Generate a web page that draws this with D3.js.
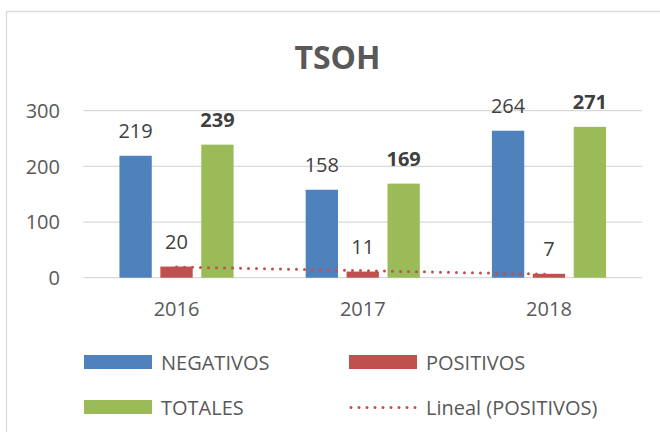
<!DOCTYPE html>
<html>
<head>
<meta charset="utf-8">
<script src="https://cdn.jsdelivr.net/npm/d3@7"></script>
<style>
  html, body { margin: 0; padding: 0; background: #fff; }
  svg { display: block; font-family: "Open Sans", "Noto Sans", sans-serif; }
</style>
</head>
<body>
<svg id="chart" width="660" height="432"></svg>
<script>
// Chart data
const years = ["2016", "2017", "2018"];
const negativos = [219, 158, 264];
const positivos = [20, 11, 7];
const totales = [239, 169, 271];
const yTicks = [0, 100, 200, 300];
const seriesNames = ["NEGATIVOS", "POSITIVOS", "TOTALES"];
const seriesColors = ["#4F81BD", "#C0504D", "#9BBB59"];
const trendName = "Lineal (POSITIVOS)";

const svg = d3.select("#chart");

// Outer chart frame (continues past the right and bottom edges)
svg.append("path")
  .attr("d", "M6.5,440 L6.5,11.5 L680,11.5")
  .attr("fill", "none")
  .attr("stroke", "#D9D9D9")
  .attr("stroke-width", 1.3);

// Title
svg.append("text")
  .attr("x", 337.5).attr("y", 69)
  .attr("text-anchor", "middle")
  .attr("font-size", 32).attr("font-weight", 700)
  .attr("fill", "#595959")
  .text("TSOH");

const plot = { left: 83.4, right: 642.1, top: 110.7, bottom: 277.7 };

const x = d3.scaleBand()
  .domain(years)
  .range([plot.left, plot.right])
  .paddingInner(0.387)
  .paddingOuter(0.1935);

const xInner = d3.scaleBand()
  .domain(seriesNames)
  .range([0, x.bandwidth()])
  .paddingInner(0.21)
  .paddingOuter(0);

const y = d3.scaleLinear().domain([0, 300]).range([plot.bottom, plot.top]);

// Gridlines
svg.append("g")
  .selectAll("line")
  .data(yTicks)
  .join("line")
  .attr("x1", plot.left).attr("x2", plot.right)
  .attr("y1", d => y(d)).attr("y2", d => y(d))
  .attr("stroke", "#D9D9D9")
  .attr("stroke-width", 1.3);

// Y axis labels
svg.append("g")
  .selectAll("text")
  .data(yTicks)
  .join("text")
  .attr("x", 60).attr("y", d => y(d))
  .attr("dy", "0.36em")
  .attr("text-anchor", "end")
  .attr("font-size", 20)
  .attr("fill", "#595959")
  .text(d => d);

// X axis labels
svg.append("g")
  .selectAll("text")
  .data(years)
  .join("text")
  .attr("x", d => x(d) + x.bandwidth() / 2)
  .attr("y", 316)
  .attr("text-anchor", "middle")
  .attr("font-size", 20)
  .attr("fill", "#595959")
  .text(d => d);

// Bars
const seriesValues = [negativos, positivos, totales];
const barData = [];
years.forEach((yr, i) => {
  seriesNames.forEach((s, j) => {
    barData.push({ year: yr, series: s, value: seriesValues[j][i], color: seriesColors[j], bold: s === "TOTALES" });
  });
});

svg.append("g")
  .selectAll("rect")
  .data(barData)
  .join("rect")
  .attr("x", d => x(d.year) + xInner(d.series))
  .attr("y", d => y(d.value))
  .attr("width", xInner.bandwidth())
  .attr("height", d => y(0) - y(d.value))
  .attr("fill", d => d.color);

// Value labels
svg.append("g")
  .selectAll("text")
  .data(barData)
  .join("text")
  .attr("x", d => x(d.year) + xInner(d.series) + xInner.bandwidth() / 2)
  .attr("y", d => y(d.value) - 18)
  .attr("text-anchor", "middle")
  .attr("font-size", 20)
  .attr("font-weight", d => d.bold ? 700 : 400)
  .attr("fill", "#404040")
  .text(d => d.value);

// Linear trend of POSITIVOS (least squares over category index)
const n = positivos.length;
const idx = d3.range(1, n + 1);
const mx = d3.mean(idx), my = d3.mean(positivos);
const slope = d3.sum(idx, (k, i) => (k - mx) * (positivos[i] - my)) / d3.sum(idx, k => (k - mx) ** 2);
const intercept = my - slope * mx;
const trendPts = [
  [x(years[0]) + x.bandwidth() / 2, y(intercept + slope * 1)],
  [x(years[n - 1]) + x.bandwidth() / 2, y(intercept + slope * n)]
];

svg.append("path")
  .attr("d", d3.line()(trendPts))
  .attr("fill", "none")
  .attr("stroke", "#C0504D")
  .attr("stroke-width", 3)
  .attr("stroke-linecap", "round")
  .attr("stroke-dasharray", "0 8");

// Legend
const legendItems = [
  { name: seriesNames[0], color: seriesColors[0], kind: "box", sx: 84, row: 0 },
  { name: seriesNames[1], color: seriesColors[1], kind: "box", sx: 349, row: 0 },
  { name: seriesNames[2], color: seriesColors[2], kind: "box", sx: 84, row: 1 },
  { name: trendName, color: seriesColors[1], kind: "dots", sx: 349, row: 1 }
];
const rowTop = [355, 400];
const legend = svg.append("g");
legendItems.forEach(it => {
  const top = rowTop[it.row];
  if (it.kind === "box") {
    legend.append("rect")
      .attr("x", it.sx).attr("y", top)
      .attr("width", 68).attr("height", 14)
      .attr("fill", it.color);
  } else {
    legend.append("line")
      .attr("x1", it.sx + 2).attr("x2", it.sx + 67)
      .attr("y1", top + 7.5).attr("y2", top + 7.5)
      .attr("stroke", it.color)
      .attr("stroke-width", 3)
      .attr("stroke-linecap", "round")
      .attr("stroke-dasharray", "0 8");
  }
  legend.append("text")
    .attr("x", it.sx + 77).attr("y", top + 14.5)
    .attr("font-size", 20)
    .attr("fill", "#595959")
    .text(it.name);
});
</script>
</body>
</html>
